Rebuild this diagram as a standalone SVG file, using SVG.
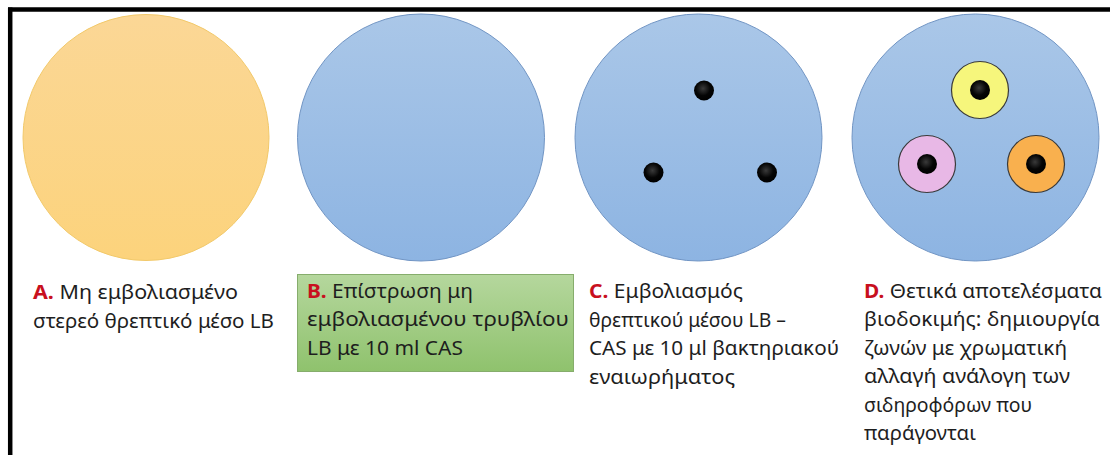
<svg xmlns="http://www.w3.org/2000/svg" width="1110" height="455" viewBox="0 0 1110 455">
<defs>
<linearGradient id="gYel" x1="0" y1="0" x2="0" y2="1"><stop offset="0" stop-color="#fbd796"/><stop offset="1" stop-color="#fcd37c"/></linearGradient>
<linearGradient id="gBlue" x1="0" y1="0" x2="0" y2="1"><stop offset="0" stop-color="#aac7e8"/><stop offset="1" stop-color="#8db4e2"/></linearGradient>
<linearGradient id="gGreen" x1="0" y1="0" x2="0" y2="1"><stop offset="0" stop-color="#b5d79d"/><stop offset="1" stop-color="#8fc26d"/></linearGradient>
<radialGradient id="gDot" cx="0.45" cy="0.4" r="0.6"><stop offset="0" stop-color="#3a3a3a"/><stop offset="0.6" stop-color="#050505"/><stop offset="1" stop-color="#000"/></radialGradient>
</defs>
<style>
.dish{fill:url(#gBlue);stroke:#7195c4;stroke-width:1}
.dot{fill:url(#gDot)}
.ring{stroke:#3a3a3a;stroke-width:1.2}
.t{font-family:"Noto Sans","Open Sans","DejaVu Sans",sans-serif;font-size:19.5px;fill:#1e1e1e}
.lab{fill:#c8101e;font-weight:bold}
</style>
<rect width="1110" height="455" fill="#fff"/>
<g id="frame" fill="none" stroke="#000" stroke-width="4.5">
<line x1="8" y1="9.5" x2="1110" y2="9.5"/>
<line x1="10.2" y1="7.5" x2="10.2" y2="455"/>
</g>
<g id="dishA">
<circle cx="146" cy="137.5" r="123" fill="url(#gYel)" stroke="#f2c96a" stroke-width="1"/>
</g>
<g id="dishB">
<circle cx="421" cy="137.5" r="123.5" class="dish"/>
</g>
<g id="dishC">
<circle cx="698.5" cy="137.5" r="123.5" class="dish"/>
<circle cx="704" cy="90.5" r="10" class="dot"/>
<circle cx="653.5" cy="172.5" r="10" class="dot"/>
<circle cx="767" cy="172.5" r="10" class="dot"/>
</g>
<g id="dishD">
<circle cx="975.5" cy="137.5" r="123.5" class="dish"/>
<circle cx="980" cy="90" r="28.5" fill="#f6f67c" class="ring"/>
<circle cx="927" cy="164" r="28.5" fill="#e8b8e6" class="ring"/>
<circle cx="1036" cy="164" r="28.5" fill="#f9b04e" class="ring"/>
<circle cx="980" cy="90" r="10" class="dot"/>
<circle cx="927" cy="164" r="10" class="dot"/>
<circle cx="1036" cy="164" r="10" class="dot"/>
</g>
<g id="textA" class="t">
<text x="33" y="299" textLength="205" lengthAdjust="spacingAndGlyphs"><tspan class="lab">A.</tspan> Μη εμβολιασμένο</text>
<text x="33" y="327.5" textLength="241" lengthAdjust="spacingAndGlyphs">στερεό θρεπτικό μέσο LB</text>
</g>
<g id="textB" class="t">
<rect x="297.5" y="274.5" width="276" height="97" fill="url(#gGreen)" stroke="#86ad6c" stroke-width="1"/>
<text x="307" y="297.5" textLength="166" lengthAdjust="spacingAndGlyphs"><tspan class="lab">B.</tspan> Επίστρωση μη</text>
<text x="307" y="326" textLength="262" lengthAdjust="spacingAndGlyphs">εμβολιασμένου τρυβλίου</text>
<text x="307" y="354.5" textLength="156" lengthAdjust="spacingAndGlyphs">LB με 10 ml CAS</text>
</g>
<g id="textC" class="t">
<text x="589" y="298" textLength="154" lengthAdjust="spacingAndGlyphs"><tspan class="lab">C.</tspan> Εμβολιασμός</text>
<text x="589" y="326.5" textLength="197" lengthAdjust="spacingAndGlyphs">θρεπτικού μέσου LB –</text>
<text x="589" y="355" textLength="250" lengthAdjust="spacingAndGlyphs">CAS με 10 μl βακτηριακού</text>
<text x="589" y="383.5" textLength="146" lengthAdjust="spacingAndGlyphs">εναιωρήματος</text>
</g>
<g id="textD" class="t">
<text x="864" y="297.5" textLength="238" lengthAdjust="spacingAndGlyphs"><tspan class="lab">D.</tspan> Θετικά αποτελέσματα</text>
<text x="864" y="326" textLength="236" lengthAdjust="spacingAndGlyphs">βιοδοκιμής: δημιουργία</text>
<text x="864" y="354.5" textLength="203" lengthAdjust="spacingAndGlyphs">ζωνών με χρωματική</text>
<text x="864" y="383" textLength="206" lengthAdjust="spacingAndGlyphs">αλλαγή ανάλογη των</text>
<text x="864" y="411.5" textLength="168" lengthAdjust="spacingAndGlyphs">σιδηροφόρων που</text>
<text x="864" y="440" textLength="112" lengthAdjust="spacingAndGlyphs">παράγονται</text>
</g>
</svg>
